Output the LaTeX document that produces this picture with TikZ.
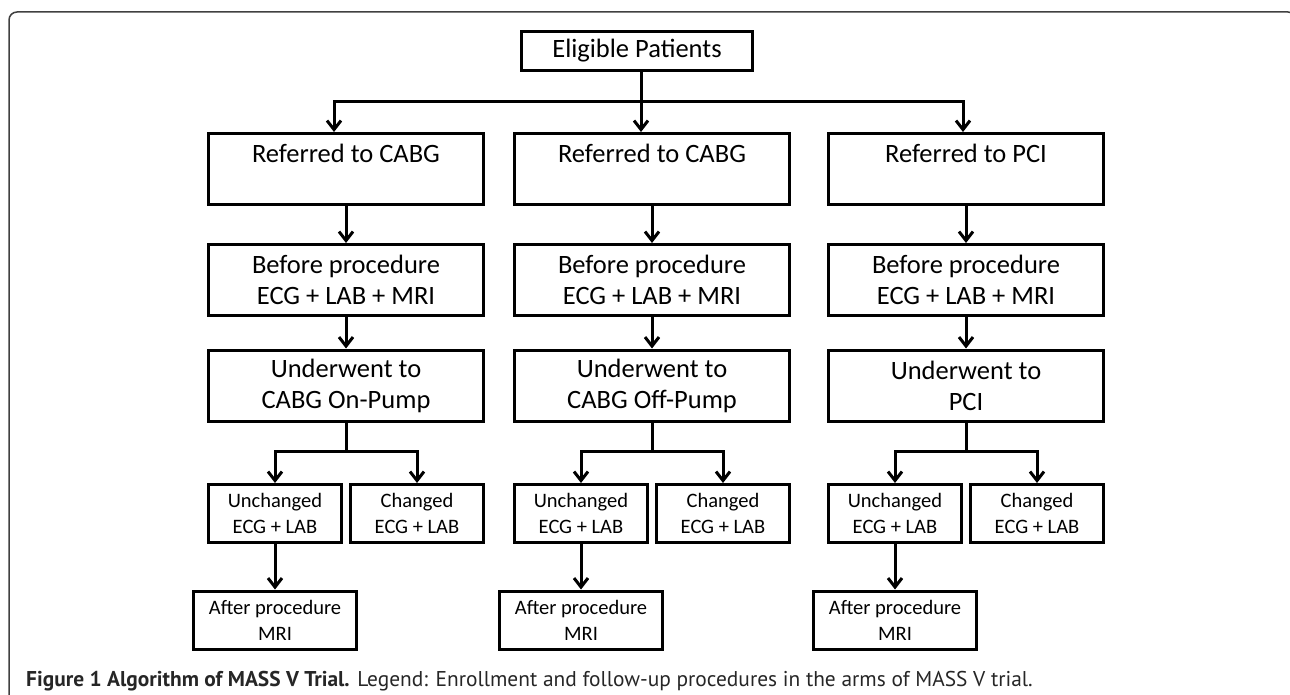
\documentclass[tikz,border=0pt]{standalone}
\usepackage{fontspec}
\setmainfont{Carlito}
\newfontfamily\capfont{PT Sans}
\usetikzlibrary{arrows.meta}
\begin{document}
\begin{tikzpicture}[x=1pt, y=-1pt, line join=miter, >={Straight Barb[length=9pt,width=14pt]},
  bigbox/.style={draw, line width=3pt, inner sep=0pt, minimum width=275pt, minimum height=71pt, align=center, font=\fontsize{26.5}{31}\selectfont},
  smallbox/.style={bigbox, minimum width=133pt, minimum height=58pt, font=\fontsize{20.5}{26}\selectfont},
  link/.style={line width=3pt}]
\useasboundingbox (0,0) rectangle (1290,695);
\clip (0,0) rectangle (1290,695);
%frame
\draw[line width=1.5pt, black!75, rounded corners=8pt] (9,740) rectangle (1296,12);
%top
\node[bigbox, minimum width=231pt, minimum height=39pt] (elig) at (637,51) {Eligible Patients};
\foreach \i/\x/\ref/\op in {1/346/CABG/CABG On-Pump, 2/652/CABG/CABG Off-Pump, 3/966/PCI/PCI}{
  \node[bigbox] (r\i) at (\x,169) {Referred to \ref\\~};
  \node[bigbox] (b\i) at (\x,280) {Before procedure\\ECG + LAB + MRI};
  \node[bigbox] (u\i) at (\x,385.5) {Underwent to\\\op};
  \node[smallbox] (un\i) at (\x-71,513.5) {Unchanged\\ECG + LAB};
  \node[smallbox] (ch\i) at (\x+71,513.5) {Changed\\ECG + LAB};
  \node[smallbox, minimum width=163pt] (af\i) at (\x-71,620) {After procedure\\MRI};
  \draw[link,->] (r\i) -- (b\i);
  \draw[link,->] (b\i) -- (u\i);
  \draw[link] (u\i.south) -- ++(0,29) coordinate (j\i);
  \draw[link,->] (j\i) -| (un\i.north);
  \draw[link,->] (j\i) -| (ch\i.north);
  \draw[link,->] (un\i) -- (af\i);
}
\draw[link] ([xshift=4pt]elig.south) -- ++(0,30) coordinate (top);
\draw[link,->] (top) -| ([xshift=-12pt]r1.north);
\draw[link,->] (top) -- (top |- r2.north);
\draw[link,->] (top) -| ([xshift=-3pt]r3.north);
%caption
\node[anchor=base west, inner sep=0pt, font=\capfont\fontsize{21.4}{25}\selectfont, text=black!85] (cap) at (26,686)
  {\textbf{Figure 1 Algorithm of MASS V Trial.} Legend: Enrollment and follow-up procedures in the arms of MASS V trial.};
\end{tikzpicture}
\end{document}
